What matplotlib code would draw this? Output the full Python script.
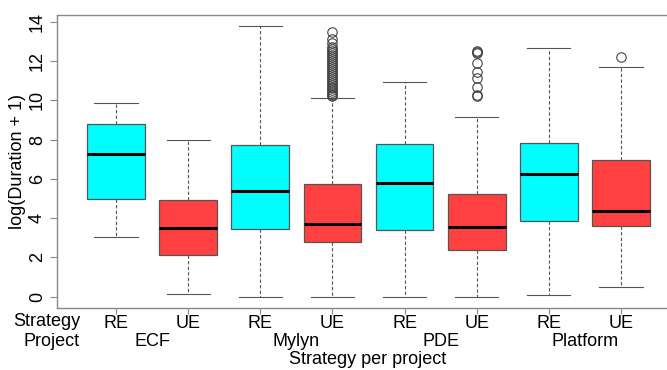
import matplotlib
matplotlib.use("Agg")
import matplotlib.pyplot as plt

plt.rcParams['font.family'] = ['Liberation Sans', 'DejaVu Sans']

projects = ["ECF", "Mylyn", "PDE", "Platform"]
strategies = ["RE", "UE"]
whislo = [3.04, 0.15, 0.0, 0.0, 0.0, 0.0, 0.07, 0.47]
q1 =     [4.95, 2.13, 3.47, 2.79, 3.38, 2.38, 3.87, 3.59]
med =    [7.28, 3.50, 5.38, 3.70, 5.78, 3.57, 6.24, 4.38]
q3 =     [8.78, 4.90, 7.71, 5.75, 7.75, 5.24, 7.81, 6.97]
whishi = [9.85, 7.97, 13.77, 10.12, 10.92, 9.17, 12.67, 11.68]
outliers = [
    [],
    [],
    [],
    [10.2, 10.25, 10.3, 10.4, 10.5, 10.6, 10.7, 10.8, 10.9, 11.0, 11.1, 11.2,
     11.3, 11.4, 11.5, 11.6, 11.7, 11.8, 11.9, 12.0, 12.1, 12.2, 12.3, 12.4,
     12.5, 12.6, 12.7, 12.9, 13.1, 13.5],
    [],
    [10.21, 10.25, 10.7, 11.15, 11.43, 11.91, 12.4, 12.48, 12.5],
    [],
    [12.18],
]
colors = ["#00FFFF", "#FF4040"] * 4

fig = plt.figure(figsize=(6.67, 3.7), dpi=100)
ax = fig.add_axes([57/667, 1-308/370, 1-57/667, (308-15)/370])

stats = []
for i in range(8):
    stats.append(dict(whislo=whislo[i], q1=q1[i], med=med[i], q3=q3[i],
                      whishi=whishi[i], fliers=outliers[i]))
pos = list(range(1, 9))
bp = ax.bxp(stats, positions=pos, widths=0.8, patch_artist=True,
            showfliers=True,
            boxprops=dict(edgecolor="#555555", linewidth=0.9),
            medianprops=dict(color="black", linewidth=2.2),
            whiskerprops=dict(color="#555555", linewidth=0.8, linestyle=(0, (3, 2))),
            capprops=dict(color="#555555", linewidth=0.8),
            flierprops=dict(marker="o", markersize=6.8, markerfacecolor="none",
                            markeredgecolor="#444444", markeredgewidth=0.8))
for patch, c in zip(bp["boxes"], colors):
    patch.set_facecolor(c)
# caps width: R default half the box width
for j, cap in enumerate(bp["caps"]):
    p = pos[j // 2]
    cap.set_xdata([p - 0.3, p + 0.3])

ax.set_xlim(1 - 59/72.1, 8 + 46/72.1)
ax.set_ylim(-0.575, 14.34)
ax.set_yticks(range(0, 15, 2))
ax.set_yticklabels([str(v) for v in range(0, 15, 2)], rotation=90, va="center", fontsize=13)
ax.set_xticks(pos)
ax.set_xticklabels([strategies[i % 2] for i in range(8)], fontsize=13)
ax.tick_params(axis="x", length=4, pad=1, color="#888888")
ax.tick_params(axis="y", length=5, pad=3, color="#888888")
for s in ["left", "bottom", "top"]:
    ax.spines[s].set_color("#888888")
    ax.spines[s].set_linewidth(1.0)
ax.spines["right"].set_visible(False)
ax.set_ylabel("log(Duration + 1)", fontsize=13, labelpad=2)

# Row labels
fig.text(80/667, 1-321/370, "Strategy", ha="right", va="center", fontsize=13)
fig.text(80/667, 1-342/370, "Project", ha="right", va="center", fontsize=13)
for k, pr in enumerate(projects):
    xc = (pos[2*k] + pos[2*k+1]) / 2
    ax.text(xc, -0.575, pr, transform=ax.get_xaxis_transform() if False else ax.transData,
            ha="center", va="center", fontsize=13)
# reposition project labels into figure coords row
for t in ax.texts:
    x_disp = ax.transData.transform((t.get_position()[0], 0))[0]
    t.set_transform(fig.transFigure)
    t.set_position((x_disp / fig.dpi / fig.get_figwidth(), 1-342/370))
fig.text(368/667, 1-360/370, "Strategy per project", ha="center", va="center", fontsize=13)

fig.savefig("out.png", dpi=100)
